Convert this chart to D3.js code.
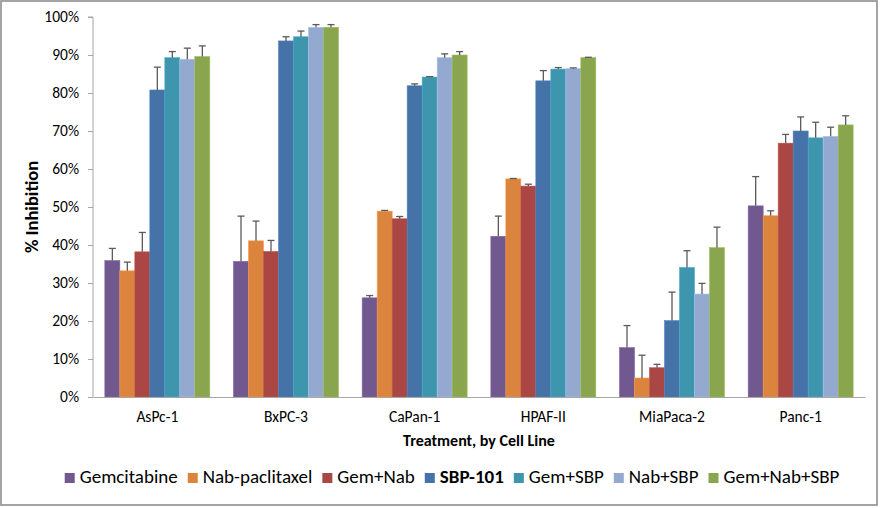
<!DOCTYPE html>
<html>
<head>
<meta charset="utf-8">
<script src="https://cdn.jsdelivr.net/npm/d3@7"></script>
<style>
  body { margin: 0; background: #fff; }
  svg { display: block; }
  text { font-family: Carlito, Calibri, "Noto Sans", sans-serif; fill: #000; }
</style>
</head>
<body>
<svg id="chart" width="880" height="508"></svg>
<script>
// cell lines on the x axis
const cellLines = ["AsPc-1", "BxPC-3", "CaPan-1", "HPAF-II", "MiaPaca-2", "Panc-1"];

// treatments (legend order)
const treatments = ["Gemcitabine", "Nab-paclitaxel", "Gem+Nab", "SBP-101", "Gem+SBP", "Nab+SBP", "Gem+Nab+SBP"];
const colors = ["#71588f", "#db843d", "#aa4643", "#4572a7", "#3d96ae", "#93a9cf", "#89a54e"];

// % inhibition, one array per treatment, in cellLines order
const gemcitabine = [35.9, 35.7, 26.1, 42.3, 13.0, 50.3];
const nabPaclitaxel = [33.2, 41.1, 48.9, 57.4, 5.0, 47.7];
const gemNab = [38.2, 38.3, 46.9, 55.5, 7.7, 66.8];
const sbp101 = [80.8, 93.7, 81.9, 83.2, 20.1, 70.0];
const gemSbp = [89.3, 94.8, 84.2, 86.3, 34.1, 68.2];
const nabSbp = [88.9, 97.3, 89.3, 86.4, 27.1, 68.6];
const gemNabSbp = [89.6, 97.3, 90.0, 89.3, 39.3, 71.6];

// upper error bar lengths (same layout)
const errGemcitabine = [3.2, 11.9, 0.6, 5.3, 5.8, 7.7];
const errNabPaclitaxel = [2.3, 5.2, 0.2, 0.1, 6.0, 1.3];
const errGemNab = [5.1, 2.9, 0.6, 0.5, 0.9, 2.3];
const errSbp101 = [6.0, 1.1, 0.5, 2.7, 7.5, 3.7];
const errGemSbp = [1.6, 1.5, 0.1, 0.4, 4.4, 4.1];
const errNabSbp = [2.9, 0.7, 1.0, 0.2, 2.8, 2.4];
const errGemNabSbp = [2.8, 0.7, 0.9, 0.1, 5.4, 2.4];

const yTicks = [0, 10, 20, 30, 40, 50, 60, 70, 80, 90, 100];

const values = [gemcitabine, nabPaclitaxel, gemNab, sbp101, gemSbp, nabSbp, gemNabSbp];
const errors = [errGemcitabine, errNabPaclitaxel, errGemNab, errSbp101, errGemSbp, errNabSbp, errGemNabSbp];

const svg = d3.select("#chart");
const W = 880, H = 508;
const plot = {left: 93, right: 865, top: 17, bottom: 397};

// outer frame
svg.append("rect").attr("x", 1).attr("y", 1).attr("width", W - 4).attr("height", H - 4)
  .attr("fill", "#fff").attr("stroke", "#8e8e8e").attr("stroke-width", 1.6);

const x0 = d3.scaleBand().domain(cellLines).range([plot.left, plot.right]);
const x1 = d3.scaleBand().domain(treatments).range([0, x0.bandwidth()]).paddingOuter(0.79);
const y = d3.scaleLinear().domain([0, 100]).range([plot.bottom, plot.top]);

// bars
const rows = [];
treatments.forEach((t, i) => {
  cellLines.forEach((c, j) => {
    rows.push({t, c, v: values[i][j], e: errors[i][j], color: colors[i]});
  });
});

svg.append("g").selectAll("rect").data(rows).join("rect")
  .attr("x", d => x0(d.c) + x1(d.t))
  .attr("y", d => y(d.v))
  .attr("width", x1.bandwidth())
  .attr("height", d => y(0) - y(d.v))
  .attr("fill", d => d.color)
  .attr("stroke", d => d3.color(d.color).brighter(0.4))
  .attr("stroke-width", 0.6);

// error bars (plus only)
const eb = svg.append("g").attr("stroke", "#5a5a5a").attr("stroke-width", 1.3);
rows.forEach(d => {
  const cx = x0(d.c) + x1(d.t) + x1.bandwidth() / 2;
  eb.append("line").attr("x1", cx).attr("x2", cx).attr("y1", y(d.v)).attr("y2", y(d.v + d.e));
  eb.append("line").attr("x1", cx - 3.5).attr("x2", cx + 3.5).attr("y1", y(d.v + d.e)).attr("y2", y(d.v + d.e));
});

// y axis
const yAxis = svg.append("g").attr("transform", `translate(${plot.left},0)`)
  .call(d3.axisLeft(y).tickValues(yTicks).tickSize(5).tickPadding(9).tickFormat(d => d + "%"));
yAxis.select(".domain").attr("stroke", "#a6a6a6").attr("d", `M-5,${plot.top}H0V${plot.bottom}`);
yAxis.selectAll(".tick line").attr("stroke", "#a6a6a6");
yAxis.selectAll(".tick text").style("font-size", "15.5px").attr("fill", "#000");

// x axis
const xAxis = svg.append("g").attr("transform", `translate(0,${plot.bottom})`)
  .call(d3.axisBottom(x0).tickSize(0).tickPadding(14));
xAxis.select(".domain").attr("stroke", "#a6a6a6");
xAxis.selectAll(".tick text").style("font-size", "15.5px").attr("fill", "#000");

// axis titles
svg.append("text").attr("x", (plot.left + plot.right) / 2).attr("y", 446)
  .attr("text-anchor", "middle").style("font-size", "16px").style("font-weight", "bold")
  .text("Treatment, by Cell Line");

svg.append("text")
  .attr("transform", `translate(38,${(plot.top + plot.bottom) / 2}) rotate(-90)`)
  .attr("text-anchor", "middle").style("font-size", "18.5px").style("font-weight", "bold")
  .text("% Inhibition");

// legend
const legend = svg.append("g");
const items = treatments.map((t, i) => {
  const g = legend.append("g");
  g.append("rect").attr("width", 10).attr("height", 10).attr("y", -10).attr("fill", colors[i]);
  const txt = g.append("text").attr("x", 15).attr("y", 0).style("font-size", "19px")
    .style("font-weight", t === "SBP-101" ? "bold" : "normal").text(t);
  return {g, w: 15 + txt.node().getComputedTextLength()};
});
const gap = 10;
const total = d3.sum(items, d => d.w) + gap * (items.length - 1);
let lx = 452 - total / 2;
items.forEach(d => {
  d.g.attr("transform", `translate(${lx},483)`);
  lx += d.w + gap;
});
</script>
</body>
</html>
